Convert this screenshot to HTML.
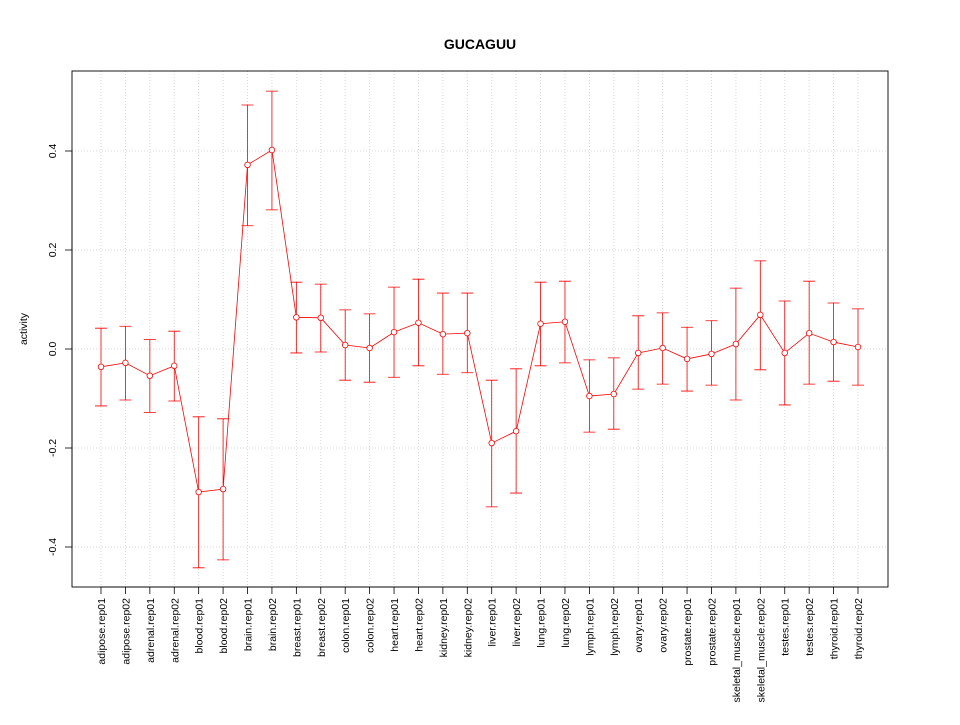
<!DOCTYPE html>
<html><head><meta charset="utf-8"><style>
body{margin:0;background:#fff;}
svg text{font-family:"Liberation Sans",sans-serif;}
</style></head><body>
<svg id="chart" width="960" height="720" xmlns="http://www.w3.org/2000/svg">
<rect width="960" height="720" fill="#fff"/>
<text x="480" y="49" text-anchor="middle" font-weight="bold" font-size="14">GUCAGUU</text>
<text transform="translate(27,329) rotate(-90)" text-anchor="middle" font-size="10.5">activity</text>
<g id="grid"></g>
<g id="yaxis"></g>
<g id="xaxis"></g>
<g id="series"></g>
<rect x="72" y="71" width="816" height="516" fill="none" stroke="#000" stroke-width="0.9"/>
</svg>
<script>
const categories=["adipose.rep01","adipose.rep02","adrenal.rep01","adrenal.rep02","blood.rep01","blood.rep02","brain.rep01","brain.rep02","breast.rep01","breast.rep02","colon.rep01","colon.rep02","heart.rep01","heart.rep02","kidney.rep01","kidney.rep02","liver.rep01","liver.rep02","lung.rep01","lung.rep02","lymph.rep01","lymph.rep02","ovary.rep01","ovary.rep02","prostate.rep01","prostate.rep02","skeletal_muscle.rep01","skeletal_muscle.rep02","testes.rep01","testes.rep02","thyroid.rep01","thyroid.rep02"];
const means=[-0.036,-0.028,-0.054,-0.034,-0.289,-0.283,0.372,0.402,0.064,0.063,0.008,0.002,0.034,0.053,0.030,0.032,-0.190,-0.166,0.051,0.055,-0.095,-0.091,-0.008,0.002,-0.020,-0.010,0.010,0.069,-0.008,0.032,0.014,0.004];
const upper=[0.042,0.046,0.019,0.036,-0.137,-0.141,0.493,0.521,0.135,0.131,0.079,0.071,0.125,0.141,0.113,0.113,-0.063,-0.040,0.135,0.137,-0.022,-0.018,0.067,0.073,0.044,0.057,0.123,0.178,0.097,0.137,0.093,0.081];
const lower=[-0.115,-0.103,-0.128,-0.105,-0.442,-0.426,0.249,0.281,-0.008,-0.006,-0.063,-0.067,-0.057,-0.034,-0.051,-0.048,-0.319,-0.291,-0.034,-0.028,-0.168,-0.162,-0.081,-0.071,-0.085,-0.073,-0.103,-0.042,-0.113,-0.071,-0.065,-0.073];
const yTicks=[-0.4,-0.2,0.0,0.2,0.4];
const yTickLabels=["-0.4","-0.2","0.0","0.2","0.4"];
const NS="http://www.w3.org/2000/svg";
function xs(i){return 101+i*(858-101)/(categories.length-1);}
function ys(v){return 349-v*495;}
function mk(tag,attrs,parent){const e=document.createElementNS(NS,tag);for(const k in attrs)e.setAttribute(k,attrs[k]);parent.appendChild(e);return e;}
const grid=document.getElementById('grid'),ya=document.getElementById('yaxis'),xa=document.getElementById('xaxis'),se=document.getElementById('series');
categories.forEach((c,i)=>{
  const g=mk('line',{x1:xs(i),x2:xs(i),y1:71,y2:587,stroke:'#d8d8d8','stroke-dasharray':'1,2'},grid);
  
  
  const t=mk('line',{x1:xs(i),x2:xs(i),y1:587,y2:594,stroke:'#000','stroke-width':0.8},xa);
  
  
  const l=mk('text',{transform:`translate(${xs(i)+4},${598}) rotate(-90)`,'text-anchor':'end','font-size':'10.5'},xa);
  l.textContent=c;
  
  
});
mk('line',{x1:xs(0),x2:xs(categories.length-1),y1:587,y2:587,stroke:'#000','stroke-width':0.8},xa);
yTicks.forEach((v,i)=>{
  const g=mk('line',{x1:72,x2:888,y1:ys(v),y2:ys(v),stroke:'#d8d8d8','stroke-dasharray':'1,2'},grid);
  
  
  const t=mk('line',{x1:65,x2:72,y1:ys(v),y2:ys(v),stroke:'#000','stroke-width':0.8},ya);
  
  
  const l=mk('text',{transform:`translate(${56},${ys(v)}) rotate(-90)`,'text-anchor':'middle','font-size':'10.5'},ya);
  l.textContent=yTickLabels[i];
  
  
});
mk('line',{x1:72,x2:72,y1:ys(yTicks[0]),y2:ys(yTicks[yTicks.length-1]),stroke:'#000','stroke-width':0.8},ya);
const pl=mk('polyline',{points:means.map((m,i)=>xs(i)+','+ys(m)).join(' '),fill:'none',stroke:'#f00','stroke-width':0.8},se);


means.forEach((m,i)=>{
  const x=xs(i);
  const e=mk('path',{d:`M${x},${ys(lower[i])}V${ys(upper[i])}M${x-6},${ys(upper[i])}H${x+6}M${x-6},${ys(lower[i])}H${x+6}`,stroke:'#f00',fill:'none','stroke-width':0.8},se);
  
  
  const p=mk('circle',{cx:x,cy:ys(m),r:2.8,fill:'#fff',stroke:'#f00','stroke-width':0.8},se);
  
  
});
</script>
</body></html>
